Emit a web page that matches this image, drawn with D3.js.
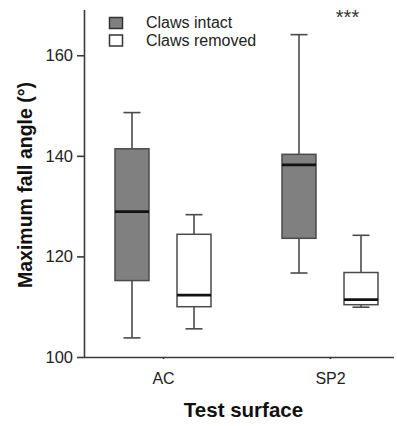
<!DOCTYPE html>
<html>
<head>
<meta charset="utf-8">
<script src="https://cdn.jsdelivr.net/npm/d3@7/dist/d3.min.js"></script>
<style>
  html, body { margin: 0; padding: 0; background: #fff; }
  svg { display: block; font-family: "Liberation Sans", Arial, sans-serif; }
</style>
</head>
<body>
<svg id="chart" width="397" height="426"></svg>
<script>
// Test surfaces and treatments
const categories = ["AC", "SP2"];
const groups = ["Claws intact", "Claws removed"];
const groupFill = ["#808080", "#ffffff"];

// Five-number summaries per surface: [min, Q1, median, Q3, max]
const clawsIntact  = [[103.8, 115.2, 128.9, 141.4, 148.6], [116.7, 123.6, 138.2, 140.3, 164.1]];
const clawsRemoved = [[105.6, 110.0, 112.3, 124.4, 128.3], [109.9, 110.4, 111.4, 116.8, 124.2]];

const yTicks = [100, 120, 140, 160];
const significance = ["", "***"];

const svg = d3.select("#chart");
const axisLeft = 84, axisRight = 394, axisBottom = 357, axisTop = 10;

const y = d3.scaleLinear().domain([100, 169]).range([axisBottom, axisTop]);
const x = d3.scalePoint().domain(categories).range([163, 330]);
const sub = d3.scaleBand().domain(groups).range([-48, 48]).paddingInner(0.452);
const bw = sub.bandwidth();

const stroke = "#4a4a4a";

// Boxes
const series = [clawsIntact, clawsRemoved];
groups.forEach((g, gi) => {
  categories.forEach((c, ci) => {
    const [mn, q1, md, q3, mx] = series[gi][ci];
    const cx = x(c) + sub(g) + bw / 2;
    const left = x(c) + sub(g);
    const cap = bw * 0.5;
    const grp = svg.append("g");
    // whiskers
    grp.append("line").attr("x1", cx).attr("x2", cx).attr("y1", y(q3)).attr("y2", y(mx))
      .attr("stroke", stroke).attr("stroke-width", 1.6);
    grp.append("line").attr("x1", cx).attr("x2", cx).attr("y1", y(q1)).attr("y2", y(mn))
      .attr("stroke", stroke).attr("stroke-width", 1.6);
    grp.append("line").attr("x1", cx - cap / 2).attr("x2", cx + cap / 2).attr("y1", y(mx)).attr("y2", y(mx))
      .attr("stroke", stroke).attr("stroke-width", 1.6);
    grp.append("line").attr("x1", cx - cap / 2).attr("x2", cx + cap / 2).attr("y1", y(mn)).attr("y2", y(mn))
      .attr("stroke", stroke).attr("stroke-width", 1.6);
    // box
    grp.append("rect").attr("x", left).attr("y", y(q3)).attr("width", bw).attr("height", y(q1) - y(q3))
      .attr("fill", groupFill[gi]).attr("stroke", stroke).attr("stroke-width", 1.5);
    // median
    grp.append("line").attr("x1", left).attr("x2", left + bw).attr("y1", y(md)).attr("y2", y(md))
      .attr("stroke", "#111").attr("stroke-width", 2.6);
  });
});

// Y axis
const yAxis = svg.append("g").attr("transform", `translate(${axisLeft},0)`)
  .call(d3.axisLeft(y).tickValues(yTicks).tickSize(7).tickPadding(4).tickSizeOuter(0));
yAxis.select(".domain").attr("d", `M0.5,${axisTop}V${axisBottom}`);
yAxis.selectAll("line, path").attr("stroke", "#3a3a3a").attr("stroke-width", 1.6);
yAxis.selectAll("text").attr("font-size", 16.5).attr("fill", "#222")
  .attr("font-family", "Liberation Sans, Arial, sans-serif");

// X axis
const xAxis = svg.append("g").attr("transform", `translate(0,${axisBottom})`)
  .call(d3.axisBottom(x).tickSize(2).tickPadding(14).tickSizeOuter(0));
xAxis.select(".domain").attr("d", `M${axisLeft},0.5H${axisRight}`);
xAxis.selectAll("line, path").attr("stroke", "#3a3a3a").attr("stroke-width", 1.6);
xAxis.selectAll("text").attr("font-size", 16).attr("fill", "#222")
  .attr("font-family", "Liberation Sans, Arial, sans-serif");

// Axis titles
svg.append("text").attr("x", 243.5).attr("y", 417).attr("text-anchor", "middle")
  .attr("font-size", 20.5).attr("font-weight", "bold").attr("fill", "#111").text("Test surface");
svg.append("text").attr("transform", "translate(32,185) rotate(-90)").attr("text-anchor", "middle")
  .attr("font-size", 19.5).attr("font-weight", "bold").attr("fill", "#111").text("Maximum fall angle (°)");

// Significance marks
categories.forEach((c, i) => {
  if (!significance[i]) return;
  svg.append("text").attr("x", x(c) + 17.5).attr("y", 24).attr("text-anchor", "middle")
    .attr("font-size", 20).attr("fill", "#333").text(significance[i]);
});

// Legend
const legend = svg.append("g").attr("transform", "translate(109,17)");
groups.forEach((g, i) => {
  const row = legend.append("g").attr("transform", `translate(0,${i * 17.5})`);
  row.append("rect").attr("x", 0.5).attr("y", 0.5).attr("width", 13).attr("height", 11)
    .attr("fill", groupFill[i]).attr("stroke", "#333").attr("stroke-width", 1.5);
  row.append("text").attr("x", 37).attr("y", 11).attr("font-size", 16).attr("fill", "#222").text(g);
});
</script>
</body>
</html>
